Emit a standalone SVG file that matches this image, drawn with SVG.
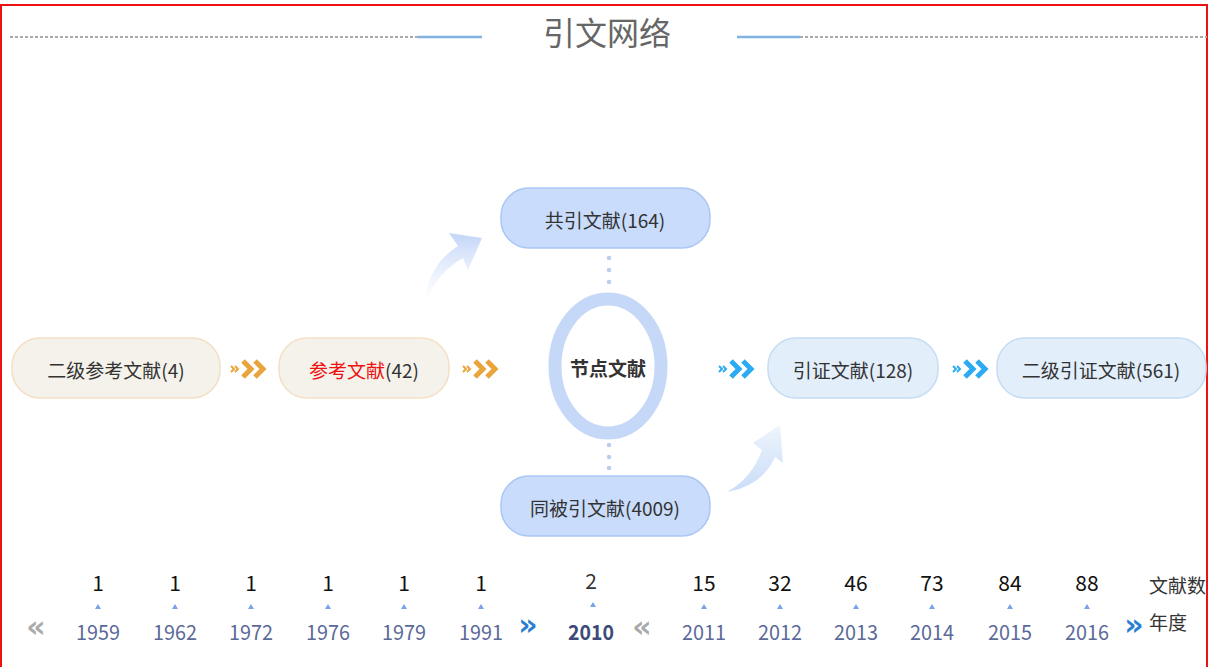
<svg xmlns="http://www.w3.org/2000/svg" width="1209" height="667" viewBox="0 0 1209 667">
<defs>
<style>
.t{font-family:"Microsoft YaHei","Noto Sans CJK SC","Liberation Sans",sans-serif;}
.node text{font-size:19px;fill:#333;text-anchor:middle;dominant-baseline:central;}
.ref rect{fill:#f4f2ea;stroke:#f3e0c4;stroke-width:1.5;}
.co rect{fill:#c9dcfb;stroke:#aac6f4;stroke-width:1.5;}
.cit rect{fill:#e2eefa;stroke:#c6dcf4;stroke-width:1.5;}
.chevO{fill:none;stroke:#e9a43c;stroke-linecap:butt;stroke-linejoin:miter;}
.chevB{fill:none;stroke:#2cabf2;stroke-linecap:butt;stroke-linejoin:miter;}
.cnt{font-size:21px;fill:#111;text-anchor:middle;}
.yr{font-size:21px;fill:#5b6a98;text-anchor:middle;}
.tri{fill:#7aa2e8;}
.dot{fill:#b9cdef;}
.nav{font-family:"DejaVu Sans",sans-serif;font-size:30px;font-weight:bold;text-anchor:middle;}
</style>
<linearGradient id="g1" x1="0" y1="1" x2="0" y2="0">
<stop offset="0" stop-color="#ffffff" stop-opacity="0.6"/>
<stop offset="1" stop-color="#c2d5f7"/>
</linearGradient>
<linearGradient id="g2" x1="0" y1="1" x2="0" y2="0">
<stop offset="0" stop-color="#c9dcf8"/>
<stop offset="1" stop-color="#eef5fc"/>
</linearGradient>
<radialGradient id="sh" cx="0.5" cy="0" r="0.6">
<stop offset="0" stop-color="#dcdcdc"/>
<stop offset="1" stop-color="#ffffff" stop-opacity="0"/>
</radialGradient>
</defs>
<rect x="0" y="0" width="1209" height="667" fill="#ffffff"/>
<ellipse cx="490" cy="0" rx="45" ry="14" fill="url(#sh)"/>
<rect x="1" y="5" width="1206" height="700" fill="none" stroke="#ee1111" stroke-width="2"/>

<g id="title">
<line x1="10" y1="37" x2="418" y2="37" stroke="#aaaaaa" stroke-width="2" stroke-dasharray="3,2"/>
<line x1="418" y1="37" x2="482" y2="37" stroke="#7fb3e0" stroke-width="2.5"/>
<line x1="737" y1="37" x2="800" y2="37" stroke="#7fb3e0" stroke-width="2.5"/>
<line x1="800" y1="37" x2="1207" y2="37" stroke="#aaaaaa" stroke-width="2" stroke-dasharray="3,2"/>
<text class="t" x="607" y="45" font-size="32" fill="#666" text-anchor="middle">引文网络</text>
</g>

<g id="connectors">
<path d="M425,302 Q428,265 458,246 L449,233 L482,238 L468,270 L463,258 Q438,272 425,302 Z" fill="url(#g1)"/>
<path d="M727,492 Q762,486 775,457 L783,463 L780,425 L753,443 L762,450 Q752,478 727,492 Z" fill="url(#g2)"/>
<g class="dots">
<circle class="dot" cx="609" cy="258" r="2.2"/><circle class="dot" cx="609" cy="270" r="2.2"/><circle class="dot" cx="609" cy="282" r="2.2"/>
<circle class="dot" cx="609" cy="445" r="2.2"/><circle class="dot" cx="609" cy="457" r="2.2"/><circle class="dot" cx="609" cy="468" r="2.2"/>
</g>
<g id="chev1">
<path class="chevO" stroke-width="2" d="M231,366 L234,369 L231,372 M235,366 L238,369 L235,372"/>
<path class="chevO" stroke-width="5" d="M243,361 L251,369 L243,377 M255,361 L263,369 L255,377"/>
</g>
<g id="chev2">
<path class="chevO" stroke-width="2" d="M463,366 L466,369 L463,372 M467,366 L470,369 L467,372"/>
<path class="chevO" stroke-width="5" d="M475,361 L483,369 L475,377 M487,361 L495,369 L487,377"/>
</g>
<g id="chev3">
<path class="chevB" stroke-width="2" d="M719,366 L722,369 L719,372 M723,366 L726,369 L723,372"/>
<path class="chevB" stroke-width="5" d="M731,361 L739,369 L731,377 M743,361 L751,369 L743,377"/>
</g>
<g id="chev4">
<path class="chevB" stroke-width="2" d="M953,366 L956,369 L953,372 M957,366 L960,369 L957,372"/>
<path class="chevB" stroke-width="5" d="M965,361 L973,369 L965,377 M977,361 L985,369 L977,377"/>
</g>
</g>

<g id="n-ref2" class="node ref t">
<rect x="12" y="338" width="208" height="60" rx="28"/>
<text x="116" y="369">二级参考文献(4)</text>
</g>
<g id="n-ref" class="node ref t">
<rect x="279" y="338" width="170" height="60" rx="28"/>
<text x="364" y="369"><tspan fill="#ee1111">参考文献</tspan>(42)</text>
</g>
<g id="n-co" class="node co t">
<rect x="501" y="188" width="209" height="60" rx="28"/>
<text x="605" y="219">共引文献(164)</text>
</g>
<g id="n-center" class="node t">
<ellipse cx="608" cy="366" rx="53" ry="67" fill="#ffffff" stroke="#c6d8f8" stroke-width="13"/>
<text x="608" y="367" font-weight="bold">节点文献</text>
</g>
<g id="n-cocited" class="node co t">
<rect x="501" y="476" width="209" height="60" rx="28"/>
<text x="605" y="507">同被引文献(4009)</text>
</g>
<g id="n-cit" class="node cit t">
<rect x="768" y="338" width="170" height="60" rx="28"/>
<text x="853" y="369">引证文献(128)</text>
</g>
<g id="n-cit2" class="node cit t">
<rect x="997" y="338" width="209" height="60" rx="28"/>
<text x="1101" y="369">二级引证文献(561)</text>
</g>

<g id="timeline" class="t">
<g class="cnt">
<text x="98" y="591">1</text><text x="175" y="591">1</text><text x="251" y="591">1</text><text x="328" y="591">1</text><text x="404" y="591">1</text><text x="481" y="591">1</text>
<text x="591" y="589" fill="#333">2</text>
<text x="704" y="591">15</text><text x="780" y="591">32</text><text x="856" y="591">46</text><text x="932" y="591">73</text><text x="1010" y="591">84</text><text x="1087" y="591">88</text>
</g>
<g>
<path class="tri" d="M95,609 L98,604 L101,609 Z"/><path class="tri" d="M172,609 L175,604 L178,609 Z"/><path class="tri" d="M248,609 L251,604 L254,609 Z"/><path class="tri" d="M325,609 L328,604 L331,609 Z"/><path class="tri" d="M401,609 L404,604 L407,609 Z"/><path class="tri" d="M478,609 L481,604 L484,609 Z"/><path class="tri" d="M590,607 L593,602 L596,607 Z"/><path class="tri" d="M701,609 L704,604 L707,609 Z"/><path class="tri" d="M777,609 L780,604 L783,609 Z"/><path class="tri" d="M853,609 L856,604 L859,609 Z"/><path class="tri" d="M929,609 L932,604 L935,609 Z"/><path class="tri" d="M1007,609 L1010,604 L1013,609 Z"/><path class="tri" d="M1084,609 L1087,604 L1090,609 Z"/>
</g>
<g class="yr">
<text x="98" y="640" textLength="44" lengthAdjust="spacingAndGlyphs">1959</text>
<text x="175" y="640" textLength="44" lengthAdjust="spacingAndGlyphs">1962</text>
<text x="251" y="640" textLength="44" lengthAdjust="spacingAndGlyphs">1972</text>
<text x="328" y="640" textLength="44" lengthAdjust="spacingAndGlyphs">1976</text>
<text x="404" y="640" textLength="44" lengthAdjust="spacingAndGlyphs">1979</text>
<text x="481" y="640" textLength="44" lengthAdjust="spacingAndGlyphs">1991</text>
<text x="591" y="640" textLength="46" lengthAdjust="spacingAndGlyphs" font-weight="bold" fill="#3d4a78">2010</text>
<text x="704" y="640" textLength="44" lengthAdjust="spacingAndGlyphs">2011</text>
<text x="780" y="640" textLength="44" lengthAdjust="spacingAndGlyphs">2012</text>
<text x="856" y="640" textLength="44" lengthAdjust="spacingAndGlyphs">2013</text>
<text x="932" y="640" textLength="44" lengthAdjust="spacingAndGlyphs">2014</text>
<text x="1010" y="640" textLength="44" lengthAdjust="spacingAndGlyphs">2015</text>
<text x="1087" y="640" textLength="44" lengthAdjust="spacingAndGlyphs">2016</text>
</g>
<text class="nav" x="36" y="637" fill="#aaaaaa">«</text>
<text class="nav" x="528" y="635" fill="#2a7fd0">»</text>
<text class="nav" x="642" y="637" fill="#aaaaaa">«</text>
<text class="nav" x="1134" y="635" fill="#2a7fd0">»</text>
<text x="1149" y="593" font-size="19" fill="#333">文献数</text>
<text x="1149" y="630" font-size="19" fill="#333">年度</text>
</g>
</svg>
